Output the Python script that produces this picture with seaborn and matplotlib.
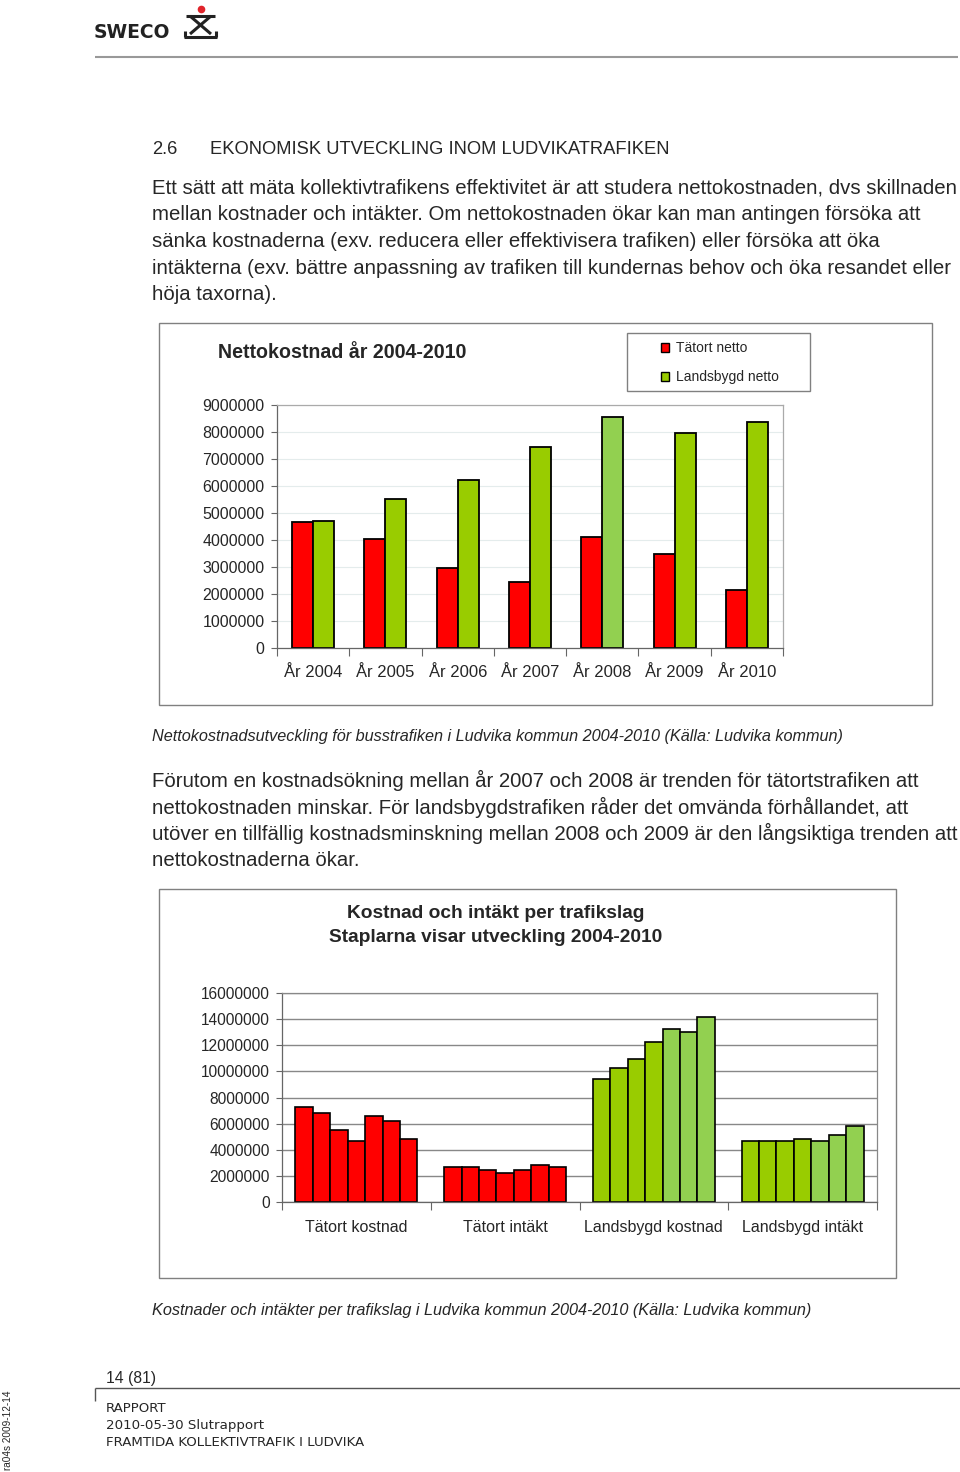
import numpy as np
import pandas as pd
import seaborn as sns
import matplotlib
matplotlib.use("Agg")
import matplotlib.pyplot as plt
from matplotlib.patches import Rectangle, Patch
from matplotlib.lines import Line2D

# ---------------- data ----------------
years = ["År 2004", "År 2005", "År 2006", "År 2007", "År 2008", "År 2009", "År 2010"]
tatort_netto = [4670000, 4040000, 2970000, 2460000, 4120000, 3490000, 2130000]
landsbygd_netto = [4720000, 5530000, 6210000, 7440000, 8570000, 7950000, 8360000]
series1 = ["Tätort netto", "Landsbygd netto"]

groups = ["Tätort kostnad", "Tätort intäkt", "Landsbygd kostnad", "Landsbygd intäkt"]
year_nums = ["2004", "2005", "2006", "2007", "2008", "2009", "2010"]
tatort_kostnad = [7250000, 6810000, 5490000, 4700000, 6580000, 6230000, 4820000]
tatort_intakt = [2680000, 2680000, 2480000, 2220000, 2480000, 2810000, 2680000]
landsbygd_kostnad = [9390000, 10280000, 10950000, 12270000, 13240000, 13040000, 14140000]
landsbygd_intakt = [4700000, 4700000, 4700000, 4820000, 4700000, 5150000, 5790000]

RED = "#FF0000"
GREEN = "#99CC00"
LGREEN = "#92D050"

W, H = 960, 1472
sns.set_style("white")
plt.rcParams["font.family"] = ["Liberation Sans", "DejaVu Sans"]

fig = plt.figure(figsize=(W / 100, H / 100), dpi=100)
fig.patch.set_facecolor("white")


def T(x, y, s, **kw):
    kw.setdefault("va", "center")
    kw.setdefault("ha", "left")
    fig.text(x / W, 1 - y / H, s, **kw)


def frame(x0, y0, x1, y1, color="#808080", lw=1.0):
    fig.add_artist(Rectangle((x0 / W, 1 - y1 / H), (x1 - x0) / W, (y1 - y0) / H,
                             transform=fig.transFigure, fill=False,
                             edgecolor=color, lw=lw))


def line(xs, ys, color="#333333", lw=1.0, **kw):
    fig.add_artist(Line2D([x / W for x in xs], [1 - y / H for y in ys],
                          transform=fig.transFigure, color=color, lw=lw,
                          solid_capstyle="butt", **kw))


# ---------------- header / logo ----------------
T(94, 32, "SWECO", fontsize=13.5, fontweight="bold", color="#222222",
  family=["DejaVu Sans"])
LC = "#222222"
line([186, 215], [15.5, 15.5], color=LC, lw=2.2)
line([190, 211], [16, 34], color=LC, lw=2.2)
line([211, 190], [16, 34], color=LC, lw=2.2)
line([184, 217], [37, 37], color=LC, lw=2.2)
line([185, 185], [31, 37], color=LC, lw=2.2)
line([216, 216], [31, 37], color=LC, lw=2.2)
line([200.5], [8.5], color="#E0242B", lw=0, marker="o", markersize=5.5,
     markeredgewidth=0)
line([95, 958], [57, 57], color="#999999", lw=1.5)

# ---------------- body text ----------------
BODY = 14.65
T(152, 149, "2.6", fontsize=13.2)
T(210, 149, "EKONOMISK UTVECKLING INOM LUDVIKATRAFIKEN", fontsize=13.2)
para1 = [
    "Ett sätt att mäta kollektivtrafikens effektivitet är att studera nettokostnaden, dvs skillnaden",
    "mellan kostnader och intäkter. Om nettokostnaden ökar kan man antingen försöka att",
    "sänka kostnaderna (exv. reducera eller effektivisera trafiken) eller försöka att öka",
    "intäkterna (exv. bättre anpassning av trafiken till kundernas behov och öka resandet eller",
    "höja taxorna).",
]
for i, s in enumerate(para1):
    T(152, 188.5 + i * 26.5, s, fontsize=BODY)

para2 = [
    "Förutom en kostnadsökning mellan år 2007 och 2008 är trenden för tätortstrafiken att",
    "nettokostnaden minskar. För landsbygdstrafiken råder det omvända förhållandet, att",
    "utöver en tillfällig kostnadsminskning mellan 2008 och 2009 är den långsiktiga trenden att",
    "nettokostnaderna ökar.",
]
for i, s in enumerate(para2):
    T(152, 780.5 + i * 26.5, s, fontsize=BODY)

T(152, 737, "Nettokostnadsutveckling för busstrafiken i Ludvika kommun 2004-2010 (Källa: Ludvika kommun)",
  fontsize=11.7, style="italic")
T(152, 1310, "Kostnader och intäkter per trafikslag i Ludvika kommun 2004-2010 (Källa: Ludvika kommun)",
  fontsize=11.7, style="italic")

# ---------------- chart 1 ----------------
frame(159, 323, 932, 705)
T(218, 353, "Nettokostnad år 2004-2010", fontsize=14.1, fontweight="bold")

ax1 = fig.add_axes([277 / W, 1 - 648 / H, (783 - 277) / W, (648 - 405) / H])
df1 = pd.DataFrame({
    "År": years * 2,
    "Värde": tatort_netto + landsbygd_netto,
    "Serie": [series1[0]] * len(years) + [series1[1]] * len(years),
})
sns.barplot(data=df1, x="År", y="Värde", hue="Serie", hue_order=series1,
            palette=[RED, GREEN], saturation=1, width=0.58, edgecolor="black",
            linewidth=1.3, errorbar=None, legend=False, ax=ax1)
for p in ax1.patches:
    c = p.get_x() + p.get_width() / 2
    if round(c) == 4 and c > 4:
        p.set_facecolor(LGREEN)
ax1.set_xlim(-0.5, 6.5)
ax1.set_ylim(0, 9000000)
ax1.set_yticks(np.arange(0, 9000001, 1000000))
ax1.set_yticklabels([f"{int(v)}" for v in np.arange(0, 9000001, 1000000)])
ax1.set_xlabel("")
ax1.set_ylabel("")
ax1.yaxis.grid(True, color="#e4ecec", lw=0.8)
ax1.set_axisbelow(True)
ax1.tick_params(axis="y", length=4, width=0.8, pad=5, labelsize=11.5, color="#666666", left=True)
ax1.tick_params(axis="x", which="major", length=0, pad=12.5, labelsize=12)
ax1.set_xticks(np.arange(-0.5, 7, 1), minor=True)
ax1.tick_params(axis="x", which="minor", length=6, width=0.8, color="#666666", bottom=True)
for s in ["left", "bottom"]:
    ax1.spines[s].set_color("#666666")
for s in ["top", "right"]:
    ax1.spines[s].set_color("#aaaaaa")
for s in ax1.spines.values():
    s.set_linewidth(0.9)

frame(627, 333, 810, 391)
fig.legend(handles=[Patch(facecolor=RED, edgecolor="black", lw=1.0, label=series1[0]),
                    Patch(facecolor=GREEN, edgecolor="black", lw=1.0, label=series1[1])],
           loc="upper left", bbox_to_anchor=(661 / W, 1 - 341 / H), frameon=False,
           fontsize=10.0, handlelength=0.6, handleheight=0.6, handletextpad=0.45,
           labelspacing=1.1, borderpad=0, borderaxespad=0)

# ---------------- chart 2 ----------------
frame(159, 889, 896, 1278)
T(496, 913, "Kostnad och intäkt per trafikslag", fontsize=13.8, fontweight="bold", ha="center")
T(496, 938, "Staplarna visar utveckling 2004-2010", fontsize=13.8, fontweight="bold", ha="center")

ax2 = fig.add_axes([282 / W, 1 - 1202 / H, (877 - 282) / W, (1202 - 993) / H])
vals2 = [tatort_kostnad, tatort_intakt, landsbygd_kostnad, landsbygd_intakt]
rows = []
for g, v in zip(groups, vals2):
    for y, val in zip(year_nums, v):
        rows.append({"Grupp": g, "År": y, "Värde": val})
df2 = pd.DataFrame(rows)
sns.barplot(data=df2, x="Grupp", y="Värde", hue="År", hue_order=year_nums,
            order=groups, palette=["#888888"] * 7, saturation=1, width=0.82,
            edgecolor="black", linewidth=1.2, errorbar=None, legend=False, ax=ax2)
bw = 0.82 / 7
for p in ax2.patches:
    c = p.get_x() + p.get_width() / 2
    cat = int(round(c))
    yi = int(round((c - cat) / bw + 3))
    if cat < 2:
        p.set_facecolor(RED)
    else:
        p.set_facecolor(GREEN if yi < 4 else LGREEN)
ax2.set_xlim(-0.5, 3.5)
ax2.set_ylim(0, 16000000)
ax2.set_yticks(np.arange(0, 16000001, 2000000))
ax2.set_yticklabels([f"{int(v)}" for v in np.arange(0, 16000001, 2000000)])
ax2.set_xlabel("")
ax2.set_ylabel("")
ax2.yaxis.grid(True, color="#888888", lw=1.0)
ax2.set_axisbelow(True)
ax2.tick_params(axis="y", length=4, width=0.8, pad=5, labelsize=11.2, color="#666666", left=True)
ax2.tick_params(axis="x", which="major", length=0, pad=13, labelsize=11.5)
ax2.set_xticks(np.arange(-0.5, 4, 1), minor=True)
ax2.tick_params(axis="x", which="minor", length=6, width=0.8, color="#666666", bottom=True)
for s in ["left", "bottom"]:
    ax2.spines[s].set_color("#666666")
for s in ["top", "right"]:
    ax2.spines[s].set_color("#888888")
for s in ax2.spines.values():
    s.set_linewidth(0.9)

# ---------------- footer ----------------
T(106, 1378, "14 (81)", fontsize=11.3)
line([95, 960], [1388, 1388], color="#555555", lw=1.0)
line([95, 95], [1388, 1401], color="#555555", lw=1.0)
FF = ["DejaVu Sans"]
T(106, 1408, "RAPPORT", fontsize=9.6, family=FF)
T(106, 1425, "2010-05-30 Slutrapport", fontsize=9.6, family=FF)
T(106, 1442, "FRAMTIDA KOLLEKTIVTRAFIK I LUDVIKA", fontsize=9.6, family=FF)
T(8, 1430, "ra04s 2009-12-14", fontsize=7.2, rotation=90, ha="center")

fig.savefig("out.png", dpi=100, facecolor="white")
